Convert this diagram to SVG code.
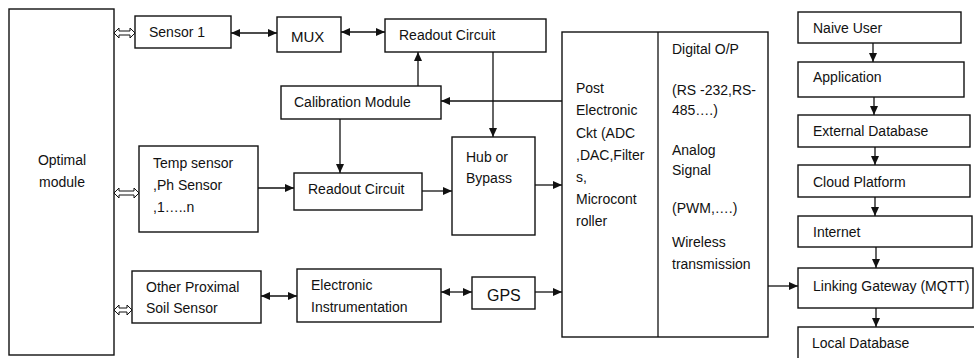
<svg xmlns="http://www.w3.org/2000/svg" width="974" height="358" viewBox="0 0 974 358">
<style>
.b{fill:#fff;stroke:#111;stroke-width:1.4}
.t{font-family:"Liberation Sans",Arial,sans-serif;font-size:14px;fill:#111}
.c{stroke:#111;stroke-width:1.3;fill:none}
.h{fill:#fff;stroke:#111;stroke-width:1}
</style>
<defs>
<marker id="a" markerUnits="userSpaceOnUse" markerWidth="10" markerHeight="10" refX="9" refY="5" orient="auto-start-reverse" viewBox="0 0 10 10">
<path d="M0,1 L9,5 L0,9 Z" fill="#111"/>
</marker>
</defs>
<rect width="974" height="358" fill="#fff"/>
<g id="optimal"><rect class="b" x="9" y="9" width="105" height="346"/><text class="t" x="62" y="165" text-anchor="middle">Optimal</text><text class="t" x="62" y="187" text-anchor="middle">module</text></g>
<g id="sensor1"><rect class="b" x="135" y="16" width="96" height="32"/><text class="t" x="149" y="37">Sensor 1</text></g>
<g id="mux"><rect class="b" x="277" y="17" width="64" height="35"/><text class="t" x="291" y="42" style="font-size:15px">MUX</text></g>
<g id="readout1"><rect class="b" x="385" y="19" width="161" height="33"/><text class="t" x="399" y="40">Readout Circuit</text></g>
<g id="calibration"><rect class="b" x="281" y="86" width="160" height="33"/><text class="t" x="294" y="107">Calibration Module</text></g>
<g id="temp"><rect class="b" x="139" y="146" width="119" height="86"/><text class="t" x="153" y="168">Temp sensor</text><text class="t" x="153" y="190">,Ph Sensor</text><text class="t" x="153" y="212">,1…..n</text></g>
<g id="readout2"><rect class="b" x="294" y="173" width="128" height="37"/><text class="t" x="308" y="194">Readout Circuit</text></g>
<g id="hub"><rect class="b" x="452" y="137" width="83" height="98"/><text class="t" x="466" y="162">Hub or</text><text class="t" x="466" y="183">Bypass</text></g>
<g id="other"><rect class="b" x="132" y="271" width="129" height="52"/><text class="t" x="146" y="292">Other Proximal</text><text class="t" x="146" y="313">Soil Sensor</text></g>
<g id="electronic"><rect class="b" x="297" y="269" width="144" height="53"/><text class="t" x="311" y="290">Electronic</text><text class="t" x="311" y="312">Instrumentation</text></g>
<g id="gps"><rect class="b" x="472" y="277" width="63" height="32"/><text class="t" x="487" y="301" style="font-size:16px">GPS</text></g>
<g id="post"><rect class="b" x="562" y="32" width="206" height="305"/><line class="c" x1="658" y1="32" x2="658" y2="337"/>
<text class="t" x="576" y="93">Post</text><text class="t" x="576" y="115">Electronic</text><text class="t" x="576" y="138">Ckt (ADC</text><text class="t" x="576" y="160">,DAC,Filter</text><text class="t" x="576" y="182">s,</text><text class="t" x="576" y="204">Microcont</text><text class="t" x="576" y="226">roller</text>
<text class="t" x="672" y="54">Digital O/P</text><text class="t" x="672" y="95">(RS -232,RS-</text><text class="t" x="672" y="115">485….)</text><text class="t" x="672" y="155">Analog</text><text class="t" x="672" y="175">Signal</text><text class="t" x="672" y="213">(PWM,….)</text><text class="t" x="672" y="247">Wireless</text><text class="t" x="672" y="269">transmission</text></g>
<g id="naive"><rect class="b" x="798" y="12" width="163" height="31"/><text class="t" x="813" y="33">Naive User</text></g>
<g id="application"><rect class="b" x="798" y="62" width="166" height="35"/><text class="t" x="813" y="82">Application</text></g>
<g id="external"><rect class="b" x="798" y="115" width="172" height="32"/><text class="t" x="813" y="136">External Database</text></g>
<g id="cloud"><rect class="b" x="798" y="165" width="172" height="32"/><text class="t" x="813" y="187">Cloud Platform</text></g>
<g id="internet"><rect class="b" x="798" y="216" width="174" height="31"/><text class="t" x="813" y="237">Internet</text></g>
<g id="gateway"><rect class="b" x="798" y="268" width="175" height="40"/><text class="t" x="813" y="291">Linking Gateway (MQTT)</text></g>
<g id="local"><rect class="b" x="798" y="327" width="180" height="40"/><text class="t" x="812" y="348">Local Database</text></g>
<g id="connectors">
<polygon class="h" points="114,33 119,28 119,31 130,31 130,28 135,33 130,38 130,35 119,35 119,38"/>
<polygon class="h" points="114,193 119,188 119,191 134,191 134,188 139,193 134,198 134,195 119,195 119,198"/>
<polygon class="h" points="114,310 119,305 119,308 127,308 127,305 132,310 127,315 127,312 119,312 119,315"/>
<line class="c" x1="231" y1="33" x2="277" y2="33" marker-start="url(#a)" marker-end="url(#a)"/>
<line class="c" x1="341" y1="32" x2="385" y2="32" marker-start="url(#a)" marker-end="url(#a)"/>
<line class="c" x1="418" y1="86" x2="418" y2="52" marker-end="url(#a)"/>
<line class="c" x1="562" y1="101" x2="441" y2="101" marker-end="url(#a)"/>
<line class="c" x1="493" y1="52" x2="493" y2="137" marker-end="url(#a)"/>
<line class="c" x1="340" y1="119" x2="340" y2="173" marker-end="url(#a)"/>
<line class="c" x1="258" y1="188" x2="294" y2="188" marker-end="url(#a)"/>
<line class="c" x1="422" y1="191" x2="452" y2="191" marker-end="url(#a)"/>
<line class="c" x1="535" y1="185" x2="562" y2="185" marker-end="url(#a)"/>
<line class="c" x1="261" y1="296" x2="297" y2="296" marker-start="url(#a)" marker-end="url(#a)"/>
<line class="c" x1="441" y1="292" x2="472" y2="292" marker-start="url(#a)" marker-end="url(#a)"/>
<line class="c" x1="535" y1="292" x2="562" y2="292" marker-end="url(#a)"/>
<line class="c" x1="768" y1="286" x2="798" y2="286" marker-end="url(#a)"/>
<line class="c" x1="873" y1="43" x2="873" y2="62" marker-end="url(#a)"/>
<line class="c" x1="874" y1="97" x2="874" y2="115" marker-end="url(#a)"/>
<line class="c" x1="875" y1="147" x2="875" y2="165" marker-end="url(#a)"/>
<line class="c" x1="875" y1="197" x2="875" y2="216" marker-end="url(#a)"/>
<line class="c" x1="876" y1="247" x2="876" y2="268" marker-end="url(#a)"/>
<line class="c" x1="876" y1="308" x2="876" y2="327" marker-end="url(#a)"/>
</g>
</svg>
